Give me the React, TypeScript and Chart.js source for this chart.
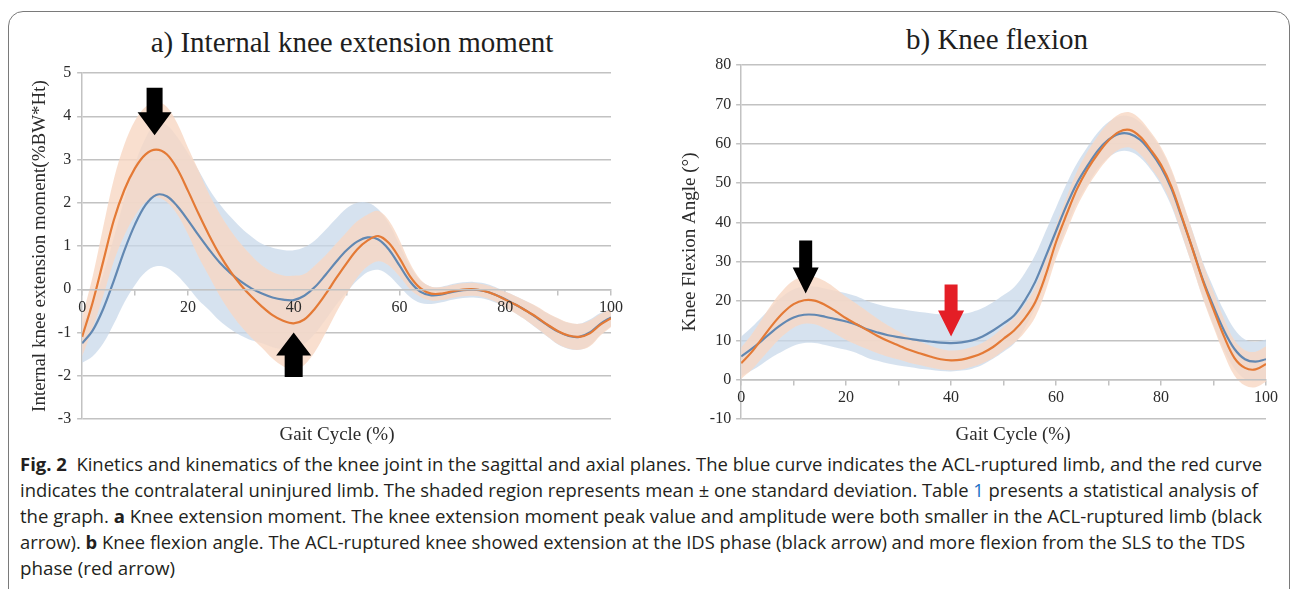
import React, { useEffect, useLayoutEffect, useRef } from 'react';
import { Chart, registerables } from 'chart.js';

Chart.register(...registerables);

// ---------- data ----------
const gaitCycle = [0, 2, 4, 6, 8, 10, 12, 14, 16, 18, 20, 22, 24, 26, 28, 30, 32, 34, 36, 38, 40, 42, 44, 46, 48, 50, 52, 54, 56, 58, 60, 62, 64, 66, 68, 70, 72, 74, 76, 78, 80, 82, 84, 86, 88, 90, 92, 94, 96, 98, 100];

// a) Internal knee extension moment (%BW*Ht)
const momentACL = [-1.25, -0.95, -0.45, 0.2, 0.9, 1.5, 1.95, 2.18, 2.15, 1.92, 1.6, 1.25, 0.92, 0.62, 0.38, 0.18, 0.02, -0.1, -0.19, -0.24, -0.25, -0.15, 0.05, 0.33, 0.63, 0.9, 1.1, 1.2, 1.15, 0.92, 0.55, 0.18, -0.06, -0.14, -0.12, -0.06, -0.02, -0.01, -0.04, -0.12, -0.23, -0.36, -0.5, -0.66, -0.83, -0.98, -1.08, -1.1, -1.0, -0.8, -0.65];
const momentACLsd = [0.45, 0.6, 0.8, 1.0, 1.2, 1.4, 1.55, 1.65, 1.65, 1.6, 1.55, 1.5, 1.4, 1.35, 1.3, 1.25, 1.2, 1.15, 1.15, 1.15, 1.15, 1.12, 1.08, 1.04, 1.0, 0.97, 0.9, 0.8, 0.7, 0.6, 0.48, 0.36, 0.26, 0.2, 0.18, 0.18, 0.18, 0.18, 0.18, 0.18, 0.18, 0.2, 0.22, 0.25, 0.27, 0.3, 0.3, 0.3, 0.3, 0.25, 0.2];
const momentUninjured = [-1.1, -0.3, 0.65, 1.6, 2.3, 2.8, 3.12, 3.23, 3.12, 2.78, 2.28, 1.75, 1.25, 0.8, 0.42, 0.1, -0.17, -0.4, -0.6, -0.73, -0.79, -0.7, -0.45, -0.12, 0.25, 0.6, 0.92, 1.13, 1.23, 1.07, 0.72, 0.3, 0.02, -0.1, -0.1, -0.05, -0.01, 0, -0.04, -0.12, -0.24, -0.36, -0.5, -0.65, -0.82, -0.97, -1.07, -1.1, -1.02, -0.82, -0.67];
const momentUninjuredSd = [0.45, 0.6, 0.8, 0.95, 1.05, 1.1, 1.1, 1.1, 1.1, 1.05, 1.0, 1.0, 0.95, 0.95, 0.95, 0.95, 0.95, 0.95, 1.0, 1.05, 1.1, 1.05, 1.0, 0.9, 0.8, 0.72, 0.65, 0.6, 0.58, 0.52, 0.42, 0.3, 0.2, 0.16, 0.15, 0.15, 0.15, 0.15, 0.15, 0.16, 0.18, 0.2, 0.22, 0.25, 0.27, 0.3, 0.3, 0.3, 0.3, 0.25, 0.2];

// b) Knee flexion angle (deg)
const flexionACL = [5.9, 7.8, 10.0, 12.3, 14.3, 15.8, 16.5, 16.5, 16.0, 15.4, 14.8, 14.0, 12.8, 12.0, 11.3, 10.8, 10.4, 10.0, 9.7, 9.4, 9.3, 9.5, 10.0, 11.0, 12.5, 14.3, 16.3, 20.0, 24.8, 31.2, 37.8, 44.3, 50.0, 54.4, 58.3, 61.0, 62.5, 62.5, 61.0, 58.0, 54.0, 48.5, 41.0, 33.3, 25.3, 18.6, 12.5, 7.8, 5.2, 4.6, 5.2];
const flexionACLsd = [5, 5.5, 6, 6.5, 7, 7.2, 7.2, 7.2, 7.2, 7.2, 7.2, 7.2, 7.2, 7.2, 7.2, 7.2, 7.2, 7.2, 7.2, 7.2, 7.2, 7.2, 7.2, 7.2, 7.2, 7.2, 7.2, 7, 6.8, 6.5, 6, 5.5, 5, 4.8, 4.6, 4.5, 4.5, 4.5, 4.5, 4.5, 4.5, 4.5, 4.5, 4.5, 4.5, 4.8, 5, 5, 5, 5, 5];
const flexionUninjured = [4.2, 7.0, 10.5, 14.0, 17.0, 19.2, 20.2, 20.1, 19.0, 17.4, 15.6, 14.1, 12.6, 11.1, 9.8, 8.7, 7.6, 6.7, 5.9, 5.2, 4.9, 5.1, 5.8, 6.8, 8.3, 10.4, 12.5, 15.5, 19.6, 26.5, 35.0, 42.0, 48.5, 53.5, 57.5, 60.8, 63.0, 63.5, 61.8, 58.5, 54.6, 49.0, 41.3, 33.2, 25.0, 17.8, 11.0, 5.5, 3.0, 2.6, 4.0];
const flexionUninjuredSd = [4, 4.5, 5, 5.5, 5.8, 6, 6, 6, 6, 5.8, 5.5, 5.2, 4.8, 4.4, 4, 3.6, 3.3, 3, 2.8, 2.6, 2.5, 2.5, 2.5, 2.6, 2.8, 3, 3.2, 3.5, 3.8, 4, 4.2, 4.4, 4.5, 4.5, 4.5, 4.5, 4.5, 4.5, 4.5, 4.5, 4.5, 4.5, 4.5, 4.5, 4.5, 4.5, 4.5, 4.5, 4.5, 4.5, 4.5];

// arrows (data units)
const momentArrows = [
  { x: 13.7, tail: 4.66, tip: 3.56, color: '#000000', shaft: 16, head: 34, headLen: 23 },
  { x: 40.0, tail: -2.03, tip: -1.0, color: '#000000', shaft: 18, head: 35, headLen: 23 },
];
const flexionArrows = [
  { x: 12.3, tail: 35.4, tip: 21.9, color: '#000000', shaft: 13, head: 26, headLen: 26 },
  { x: 40.0, tail: 24.2, tip: 11.0, color: '#E41E26', shaft: 13, head: 26, headLen: 26 },
];

// ---------- styles ----------
const SERIF = "'Liberation Serif', 'Times New Roman', Times, serif";
const ORANGE = '#E47A36';
const BLUE = '#6288B2';
const ORANGE_BAND = 'rgba(248, 216, 196, 0.82)';
const BLUE_BAND = 'rgba(200, 216, 234, 0.75)';
const GRID = '#C2C2C2';
const TEXT = '#2b2b2b';

const arrowPlugin = {
  id: 'arrowMarks',
  afterDatasetsDraw(chart: any, _args: any, opts: any) {
    const items = (opts && opts.items) || [];
    const { ctx, scales } = chart;
    items.forEach((a: any) => {
      const x = scales.x.getPixelForValue(a.x);
      const yTail = scales.y.getPixelForValue(a.tail);
      const yTip = scales.y.getPixelForValue(a.tip);
      const dir = yTip > yTail ? 1 : -1;
      const yBase = yTip - dir * a.headLen;
      const sw = a.shaft / 2;
      const hw = a.head / 2;
      ctx.save();
      ctx.fillStyle = a.color;
      ctx.beginPath();
      ctx.moveTo(x - sw, yTail);
      ctx.lineTo(x + sw, yTail);
      ctx.lineTo(x + sw, yBase);
      ctx.lineTo(x + hw, yBase);
      ctx.lineTo(x, yTip);
      ctx.lineTo(x - hw, yBase);
      ctx.lineTo(x - sw, yBase);
      ctx.closePath();
      ctx.fill();
      ctx.restore();
    });
  },
};

const pts = (vals: number[]) => vals.map((v, i) => ({ x: gaitCycle[i], y: v }));
const plus = (m: number[], s: number[]) => m.map((v, i) => v + s[i]);
const minus = (m: number[], s: number[]) => m.map((v, i) => v - s[i]);

function makeConfig(p: any): any {
  const lineCommon = { pointRadius: 0, tension: 0.35, borderWidth: 2.2, fill: false };
  const bandCommon = { pointRadius: 0, tension: 0.35, borderWidth: 1, borderColor: 'rgba(0,0,0,0)' };
  return {
    type: 'line',
    data: {
      datasets: [
        { ...lineCommon, label: 'Uninjured', data: pts(p.uninj), borderColor: ORANGE },
        { ...lineCommon, label: 'ACL-ruptured', data: pts(p.acl), borderColor: BLUE },
        { ...bandCommon, label: 'Uninjured +SD', data: pts(plus(p.uninj, p.uninjSd)), fill: 3, backgroundColor: ORANGE_BAND },
        { ...bandCommon, label: 'Uninjured -SD', data: pts(minus(p.uninj, p.uninjSd)), fill: false },
        { ...bandCommon, label: 'ACL +SD', data: pts(plus(p.acl, p.aclSd)), fill: 5, backgroundColor: BLUE_BAND },
        { ...bandCommon, label: 'ACL -SD', data: pts(minus(p.acl, p.aclSd)), fill: false },
      ],
    },
    plugins: [arrowPlugin],
    options: {
      responsive: true,
      maintainAspectRatio: false,
      animation: false,
      layout: { padding: p.padding },
      plugins: {
        legend: { display: false },
        tooltip: { enabled: false },
        filler: { drawTime: 'beforeDatasetsDraw' },
        arrowMarks: { items: p.arrows },
      },
      scales: {
        x: {
          type: 'linear',
          min: 0,
          max: 100,
          position: { y: 0 },
          ticks: {
            z: 1,
            stepSize: 10,
            autoSkip: false,
            maxRotation: 0,
            padding: 4,
            color: TEXT,
            font: { family: SERIF, size: 16 },
            callback: (v: any) => (Number(v) % 20 === 0 ? String(v) : ''),
          },
          grid: { drawOnChartArea: false, drawTicks: true, tickLength: 5, color: GRID, lineWidth: 1.5 },
          border: { color: GRID, width: 1.5, z: 1 },
        },
        y: {
          min: p.yMin,
          max: p.yMax,
          ticks: { stepSize: p.yStep, padding: p.tickPad, color: TEXT, font: { family: SERIF, size: 16 } },
          grid: { color: GRID, lineWidth: 1.5, drawTicks: true, tickLength: 5 },
          border: { color: GRID, width: 1.5 },
          title: {
            display: true,
            text: p.yTitle,
            color: TEXT,
            font: { family: SERIF, size: 19 },
            padding: p.titlePad,
          },
        },
      },
    },
  };
}

function ChartBox({ config, style }: { config: () => any; style: React.CSSProperties }) {
  const ref = useRef<HTMLCanvasElement>(null);
  useEffect(() => {
    if (!ref.current) return;
    const chart = new Chart(ref.current, config());
    return () => chart.destroy();
  }, []);
  return (
    <div style={{ position: 'absolute', ...style }}>
      <canvas ref={ref} />
    </div>
  );
}

function FitLine({ width, top, children }: { width: number; top: number; children: React.ReactNode }) {
  const ref = useRef<HTMLSpanElement>(null);
  useLayoutEffect(() => {
    const fit = () => {
      const el = ref.current;
      if (!el) return;
      el.style.transform = 'none';
      const w = el.getBoundingClientRect().width;
      if (w > 0) el.style.transform = `scaleX(${width / w})`;
    };
    fit();
    if ((document as any).fonts && (document as any).fonts.ready) {
      (document as any).fonts.ready.then(fit);
    }
  }, [width]);
  return (
    <span
      ref={ref}
      style={{
        position: 'absolute',
        left: 20,
        top,
        whiteSpace: 'nowrap',
        transformOrigin: '0 0',
        fontFamily: "'Open Sans', 'Noto Sans', 'DejaVu Sans', sans-serif",
        fontSize: 18.5,
        lineHeight: '26px',
        color: '#231f20',
      }}
    >
      {children}
    </span>
  );
}

export default function App() {
  const momentCfg = () =>
    makeConfig({
      acl: momentACL,
      aclSd: momentACLsd,
      uninj: momentUninjured,
      uninjSd: momentUninjuredSd,
      yMin: -3,
      yMax: 5,
      yStep: 1,
      yTitle: 'Internal knee extension moment(%BW*Ht)',
      padding: { top: 53, bottom: 21, right: 49, left: 15 },
      titlePad: { top: 4, bottom: 0 },
      tickPad: 6,
      arrows: momentArrows,
    });
  const flexionCfg = () =>
    makeConfig({
      acl: flexionACL,
      aclSd: flexionACLsd,
      uninj: flexionUninjured,
      uninjSd: flexionUninjuredSd,
      yMin: -10,
      yMax: 80,
      yStep: 10,
      yTitle: 'Knee Flexion Angle (°)',
      padding: { top: 45, bottom: 21, right: 19, left: 13 },
      titlePad: { top: 4, bottom: 3 },
      tickPad: 5,
      arrows: flexionArrows,
    });

  const titleStyle: React.CSSProperties = {
    position: 'absolute',
    fontFamily: SERIF,
    fontSize: 29,
    lineHeight: '29px',
    color: '#1e1e1e',
    whiteSpace: 'nowrap',
    transform: 'translateX(-50%)',
  };
  const xTitleStyle: React.CSSProperties = {
    position: 'absolute',
    fontFamily: SERIF,
    fontSize: 19,
    lineHeight: '19px',
    color: TEXT,
    whiteSpace: 'nowrap',
    transform: 'translateX(-50%)',
  };

  return (
    <div style={{ position: 'absolute', left: 0, top: 0, width: 1292, height: 589, overflow: 'hidden', background: '#fff' }}>
      <div
        style={{
          position: 'absolute',
          left: 8,
          top: 11,
          width: 1280,
          height: 640,
          border: '1px solid #7a7a7a',
          borderRadius: 15,
        }}
      />
      <div style={{ ...titleStyle, left: 352, top: 28 }}>a) Internal knee extension moment</div>
      <div style={{ ...titleStyle, left: 997, top: 25 }}>b) Knee flexion</div>

      <ChartBox config={momentCfg} style={{ left: 10, top: 20, width: 650, height: 420 }} />
      <ChartBox config={flexionCfg} style={{ left: 662, top: 20, width: 623, height: 420 }} />

      <div style={{ ...xTitleStyle, left: 337, top: 424 }}>Gait Cycle (%)</div>
      <div style={{ ...xTitleStyle, left: 1013, top: 424 }}>Gait Cycle (%)</div>

      <FitLine width={1242} top={451}>
        <b>Fig. 2</b>&nbsp; Kinetics and kinematics of the knee joint in the sagittal and axial planes. The blue curve indicates the ACL-ruptured limb, and the red curve
      </FitLine>
      <FitLine width={1238} top={477}>
        indicates the contralateral uninjured limb. The shaded region represents mean ± one standard deviation. Table <span style={{ color: '#1a6fc4' }}>1</span> presents a statistical analysis of
      </FitLine>
      <FitLine width={1242} top={503}>
        the graph. <b>a</b> Knee extension moment. The knee extension moment peak value and amplitude were both smaller in the ACL-ruptured limb (black
      </FitLine>
      <FitLine width={1225} top={529}>
        arrow). <b>b</b> Knee flexion angle. The ACL-ruptured knee showed extension at the IDS phase (black arrow) and more flexion from the SLS to the TDS
      </FitLine>
      <FitLine width={155} top={555}>
        phase (red arrow)
      </FitLine>
    </div>
  );
}
